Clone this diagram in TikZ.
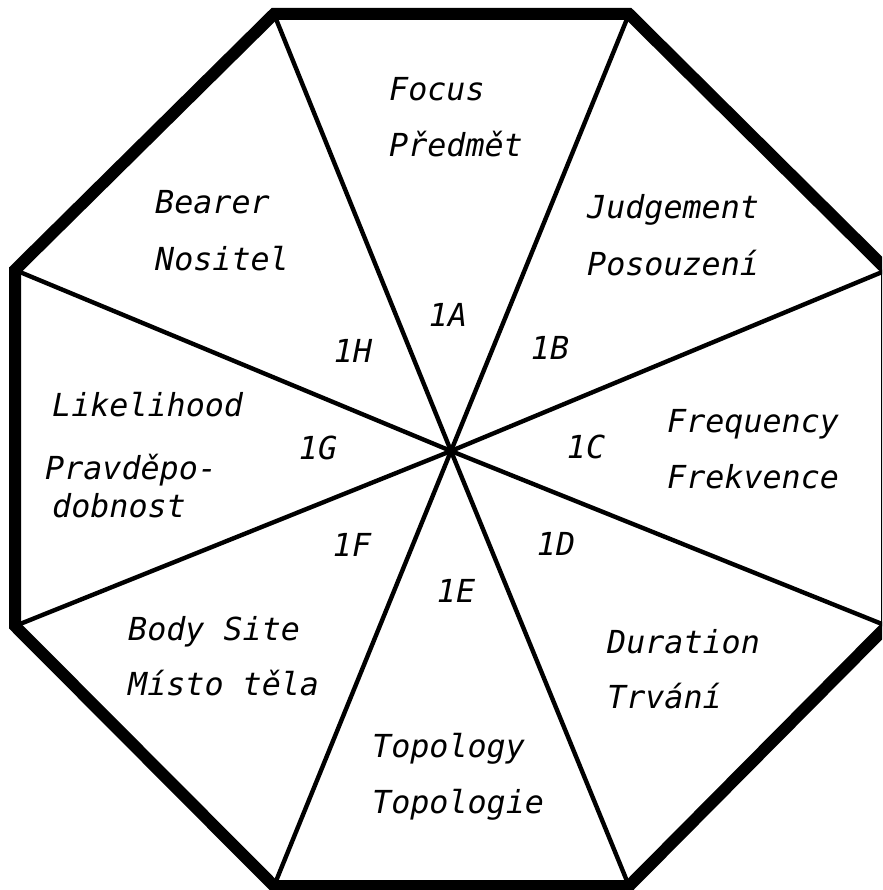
\documentclass[tikz,border=0pt]{standalone}
\usepackage{fontspec}
\newfontfamily\labelfont{DejaVu Sans Mono}[ItalicFont={DejaVu Sans Mono Oblique}]
\begin{document}
\begin{tikzpicture}[x=1pt,y=-1pt,
  txt/.style={font=\labelfont\itshape\fontsize{31.7}{38}\selectfont,anchor=base west,inner sep=0pt},
  num/.style={font=\labelfont\itshape\fontsize{31.7}{38}\selectfont,inner sep=0pt}]
    \useasboundingbox (0,0) rectangle (882,890);
    \clip (0,0) rectangle (882,890);
    % vertices and centre
    \coordinate (o) at (451,451);
    \coordinate (v1) at (274,14);
    \coordinate (v2) at (629,14);
    \coordinate (v3) at (887,270);
    \coordinate (v4) at (887,626);
    \coordinate (v5) at (629,886);
    \coordinate (v6) at (274,886);
    \coordinate (v7) at (15,626);
    \coordinate (v8) at (15,270);
    \foreach \v in {v1,v2,v3,v4,v5,v6,v7,v8}
        \draw[line width=4.4pt] (o)--(\v); % spokes
    \draw[line width=12pt] (v1)--(v2)--(v3)--(v4)--(v5)--(v6)--(v7)--(v8)--cycle; % outline
    % sector texts
    \node[txt] (focus) at (389,101) {Focus};
    \node[txt] (predmet) at (389,157) {Předmět};
    \node[txt] (judge) at (587,219) {Judgement};
    \node[txt] (posou) at (587,276) {Posouzení};
    \node[txt] (freq) at (667,432) {Frequency};
    \node[txt] (frek) at (667,488) {Frekvence};
    \node[txt] (dur) at (607,653) {Duration};
    \node[txt] (trv) at (607,708) {Trvání};
    \node[txt] (topo) at (372,757) {Topology};
    \node[txt] (topol) at (372,813) {Topologie};
    \node[txt] (body) at (128,640) {Body Site};
    \node[txt] (misto) at (128,695) {Místo těla};
    \node[txt] (like) at (52,416) {Likelihood};
    \node[txt] (prav) at (45,479) {Pravděpo-};
    \node[txt] (dobn) at (52,517) {dobnost};
    \node[txt] (bear) at (155,214) {Bearer};
    \node[txt] (nosi) at (155,270) {Nositel};
    % sector numbers
    \node[num] (n1A) at (448,315) {1A};
    \node[num] (n1B) at (550,348) {1B};
    \node[num] (n1C) at (586,447) {1C};
    \node[num] (n1D) at (556,544) {1D};
    \node[num] (n1E) at (456,591) {1E};
    \node[num] (n1F) at (352,545) {1F};
    \node[num] (n1G) at (318,448) {1G};
    \node[num] (n1H) at (353,351) {1H};
\end{tikzpicture}
\end{document}
